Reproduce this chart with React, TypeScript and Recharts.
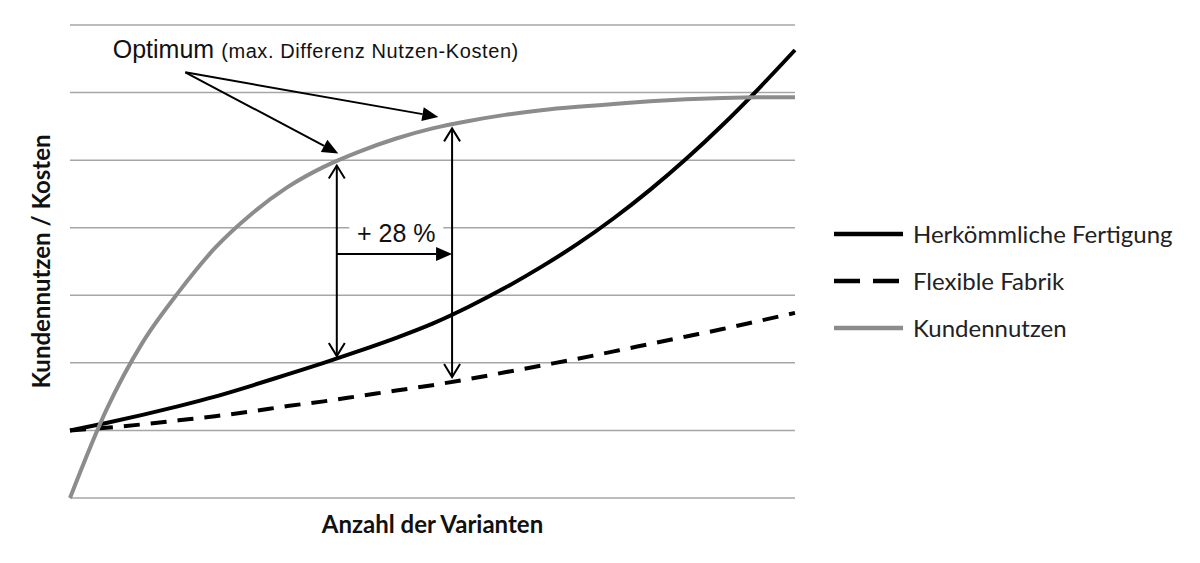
import React from 'react';
import {
  LineChart,
  Line,
  XAxis,
  YAxis,
  CartesianGrid,
  Legend,
  ReferenceLine,
  ReferenceDot,
} from 'recharts';

// Anzahl der Varianten (relative units, 0..10)
const VARIANTS = [0, 0.5, 1, 1.5, 2, 2.5, 3, 3.5, 4, 4.5, 5, 5.5, 6, 6.5, 7, 7.5, 8, 8.5, 9, 9.5, 10];

const HERKOEMMLICH = [1.0, 1.11, 1.23, 1.36, 1.5, 1.66, 1.83, 2.0, 2.18, 2.37, 2.58, 2.83, 3.11, 3.42, 3.76, 4.14, 4.56, 5.02, 5.52, 6.06, 6.63];
const FLEXIBEL = [1.0, 1.04, 1.09, 1.15, 1.21, 1.28, 1.36, 1.43, 1.51, 1.59, 1.67, 1.76, 1.86, 1.96, 2.06, 2.17, 2.28, 2.39, 2.5, 2.62, 2.74];
const KUNDENNUTZEN = [0, 1.3, 2.3, 3.05, 3.7, 4.2, 4.6, 4.9, 5.13, 5.32, 5.47, 5.58, 5.67, 5.74, 5.79, 5.83, 5.87, 5.9, 5.92, 5.93, 5.93];

const Y_TICKS = [0, 1, 2, 3, 4, 5, 6, 7];

const SERIES = [
  { key: 'herk', name: 'Herkömmliche Fertigung', color: '#000000', dash: undefined, legendDash: undefined },
  { key: 'flex', name: 'Flexible Fabrik', color: '#000000', dash: '16 11', legendDash: '26 13' },
  { key: 'nutzen', name: 'Kundennutzen', color: '#8c8c8c', dash: undefined, legendDash: undefined },
];

const data = VARIANTS.map((x, i) => ({
  x,
  herk: HERKOEMMLICH[i],
  flex: FLEXIBEL[i],
  nutzen: KUNDENNUTZEN[i],
}));

// annotation arrows, in data units
const ARROWS = [
  { from: { x: 1.59, y: 6.3 }, to: { x: 3.7, y: 5.1 }, start: 'none', end: 'filled' },
  { from: { x: 1.59, y: 6.3 }, to: { x: 5.08, y: 5.64 }, start: 'none', end: 'filled' },
  { from: { x: 3.68, y: 2.1 }, to: { x: 3.68, y: 4.92 }, start: 'open', end: 'open' },
  { from: { x: 5.27, y: 1.79 }, to: { x: 5.27, y: 5.47 }, start: 'open', end: 'open' },
  { from: { x: 3.68, y: 3.61 }, to: { x: 5.27, y: 3.61 }, start: 'none', end: 'filled' },
];

const SANS = '"Liberation Sans", Arial, sans-serif';
const LEGEND_FONT = 'Lato, "Open Sans", sans-serif';

function head(tx: number, ty: number, fx: number, fy: number, kind: string) {
  const dx = tx - fx;
  const dy = ty - fy;
  const len = Math.sqrt(dx * dx + dy * dy) || 1;
  const ux = dx / len;
  const uy = dy / len;
  const nx = -uy;
  const ny = ux;
  const l = kind === 'filled' ? 16 : 13;
  const w = kind === 'filled' ? 7 : 8;
  const bx = tx - ux * l;
  const by = ty - uy * l;
  const pts = `${bx + nx * w},${by + ny * w} ${tx},${ty} ${bx - nx * w},${by - ny * w}`;
  if (kind === 'filled') {
    return { el: <polygon points={pts} fill="#000" />, bx, by };
  }
  return { el: <polyline points={pts} fill="none" stroke="#000" strokeWidth={2} />, bx: tx, by: ty };
}

function makeArrow(start: string, end: string) {
  return (props: any) => {
    const { x1, y1, x2, y2 } = props;
    const e = end !== 'none' ? head(x2, y2, x1, y1, end) : null;
    const s = start !== 'none' ? head(x1, y1, x2, y2, start) : null;
    const lx1 = s ? s.bx : x1;
    const ly1 = s ? s.by : y1;
    const lx2 = e ? e.bx : x2;
    const ly2 = e ? e.by : y2;
    return (
      <g>
        <line x1={lx1} y1={ly1} x2={lx2} y2={ly2} stroke="#000" strokeWidth={2} />
        {s && s.el}
        {e && e.el}
      </g>
    );
  };
}

// grid rows at every y tick, through the y scale
const gridRows = ({ yAxis, offset }: any): number[] => {
  if (yAxis && typeof yAxis.scale === 'function') {
    return Y_TICKS.map((t) => yAxis.scale(t));
  }
  return Y_TICKS.map((t) => offset.top + offset.height * (1 - t / 7));
};

const renderLegend = () => (
  <div style={{ fontFamily: LEGEND_FONT, fontSize: 24, color: '#222' }}>
    {SERIES.map((s) => (
      <div key={s.key} style={{ display: 'flex', alignItems: 'center', height: 47 }}>
        <svg width={72} height={10}>
          <line
            x1={1}
            x2={70}
            y1={5}
            y2={5}
            stroke={s.color}
            strokeWidth={4.5}
            strokeDasharray={s.legendDash}
          />
        </svg>
        <span style={{ marginLeft: 8, whiteSpace: 'nowrap' }}>{s.name}</span>
      </div>
    ))}
  </div>
);

const titleStyle = { fontFamily: LEGEND_FONT, fontWeight: 700, fontSize: 24, fill: '#111' };

export default function App() {
  return (
    <div style={{ position: 'absolute', left: 0, top: 0, background: '#fff' }}>
      <LineChart
        width={1200}
        height={563}
        data={data}
        margin={{ top: 25, right: 405, bottom: 17, left: 0 }}
      >
        <CartesianGrid
          vertical={false}
          stroke="#a6a6a6"
          strokeWidth={1.5}
          horizontalCoordinatesGenerator={gridRows}
        />
        <XAxis
          dataKey="x"
          type="number"
          domain={[0, 10]}
          tick={false}
          axisLine={false}
          tickLine={false}
          height={48}
          label={{ value: 'Anzahl der Varianten', position: 'center', dy: 2, style: titleStyle }}
        />
        <YAxis
          type="number"
          domain={[0, 7]}
          ticks={Y_TICKS}
          interval={0}
          tick={false}
          axisLine={false}
          tickLine={false}
          width={70}
          label={{ value: 'Kundennutzen / Kosten', position: 'center', angle: -90, dx: 6, style: titleStyle }}
        />
        <Legend
          layout="vertical"
          align="center"
          verticalAlign="middle"
          content={renderLegend}
          wrapperStyle={{ left: 833, top: 210, width: 360, height: 150 }}
        />
        {SERIES.map((s) => (
          <Line
            key={s.key}
            dataKey={s.key}
            name={s.name}
            type="monotone"
            stroke={s.color}
            strokeWidth={4}
            strokeDasharray={s.dash}
            dot={false}
            activeDot={false}
            isAnimationActive={false}
          />
        ))}
        {ARROWS.map((a, i) => (
          <ReferenceLine
            key={i}
            segment={[a.from, a.to]}
            ifOverflow="visible"
            shape={makeArrow(a.start, a.end)}
          />
        ))}
        <ReferenceDot
          x={0.59}
          y={6.51}
          r={0}
          ifOverflow="visible"
          shape={(p: any) => (
            <text x={p.cx} y={p.cy} fontFamily={SANS} fill="#111">
              <tspan fontSize={25}>Optimum </tspan>
              <tspan fontSize={20} letterSpacing={0.6}>(max. Differenz Nutzen-Kosten)</tspan>
            </text>
          )}
        />
        <ReferenceDot
          x={4.5}
          y={3.79}
          r={0}
          ifOverflow="visible"
          shape={(p: any) => (
            <g>
              <rect x={p.cx - 47} y={p.cy - 23} width={94} height={28} fill="#fff" />
              <text x={p.cx} y={p.cy} textAnchor="middle" fontFamily={SANS} fontSize={25} fill="#111">
                + 28 %
              </text>
            </g>
          )}
        />
      </LineChart>
    </div>
  );
}
